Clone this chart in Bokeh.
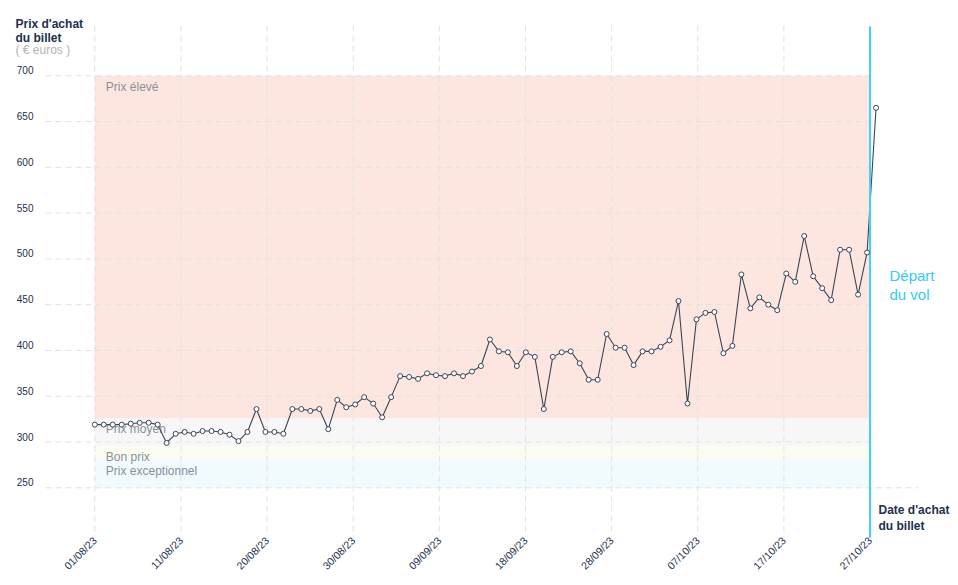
import numpy as np
from bokeh.plotting import figure
from bokeh.models import FixedTicker, Label, Range1d, LinearAxis
from bokeh.core.properties import value
from bokeh.embed import file_html
from bokeh.resources import INLINE

# ---------------- data ----------------
prices = [319, 319, 319, 319, 320, 321, 321, 319, 299, 309,
          311, 309, 312, 312, 311, 308, 301, 311, 336, 311,
          311, 309, 336, 336, 334, 336, 314, 346, 338, 341,
          349, 342, 327, 349, 372, 371, 369, 375, 373, 372,
          375, 372, 377, 383, 412, 399, 398, 383, 398, 393,
          336, 393, 398, 399, 386, 368, 368, 418, 403, 403,
          384, 399, 399, 404, 411, 454, 342, 434, 441, 442,
          397, 405, 483, 446, 458, 450, 444, 484, 475, 525,
          481, 468, 455, 510, 510, 461, 507, 665]
days = list(range(len(prices)))  # day index from 01/08/23

tick_labels = ["01/08/23", "11/08/23", "20/08/23", "30/08/23", "09/09/23",
               "18/09/23", "28/09/23", "07/10/23", "17/10/23", "27/10/23"]
departure_day = 86.33
y_ticks = [250, 300, 350, 400, 450, 500, 550, 600, 650, 700]

band_names = ["Prix exceptionnel", "Bon prix", "Prix moyen", "Prix élevé"]
band_bottoms = [250, 280, 296, 326]
band_tops = [280, 296, 326, 700]
band_colors = ["#f1fafd", "#fbfcf1", "#f7f7f7", "#fde6e0"]

FONT = "Liberation Sans"
NAVY = "#22304d"
GRID = "#e2e2e2"

tick_pos = list(np.linspace(0, departure_day, len(tick_labels)))

# pixel helpers (page pixels -> data), used for layout placement only
PX_PER_DAY = 8.98
PX_PER_EUR = 0.9156
W, H = 958, 585
def sx(px):
    return (px - 94.3) / PX_PER_DAY
def sy(py):
    return 250 + (487.3 - py) / PX_PER_EUR

p = figure(width=W, height=H,
           x_range=Range1d(sx(0), sx(W)), y_range=Range1d(sy(H), sy(0)),
           output_backend="svg", toolbar_location=None,
           x_axis_location=None, y_axis_location=None,
           min_border=0)
p.title.visible = False
p.outline_line_color = None
p.background_fill_color = "white"
p.border_fill_color = "white"
p.grid.visible = False

# label range for the y axis: tick labels sit a few px above their grid line
label_shift = 6
p.extra_y_ranges = {"ylab": Range1d(sy(H) - label_shift, sy(0) - label_shift)}

xaxis = LinearAxis(fixed_location=sy(536), ticker=FixedTicker(ticks=tick_pos),
                   major_label_overrides={t: l for t, l in zip(tick_pos, tick_labels)},
                   major_label_orientation=np.pi / 4,
                   axis_line_color=None, major_tick_line_color=None,
                   minor_tick_line_color=None, major_tick_out=0, major_tick_in=0,
                   major_label_standoff=2, major_label_text_font=FONT,
                   major_label_text_font_size="10.5px", major_label_text_color=NAVY)
p.add_layout(xaxis, "below")

yaxis = LinearAxis(y_range_name="ylab", fixed_location=sx(45),
                   ticker=FixedTicker(ticks=y_ticks),
                   axis_line_color=None, major_tick_line_color=None,
                   minor_tick_line_color=None, major_tick_out=0, major_tick_in=0,
                   major_label_standoff=12, major_label_text_font=FONT,
                   major_label_text_font_size="10px", major_label_text_color=NAVY)
p.add_layout(yaxis, "left")

# bands
p.quad(left=0, right=departure_day, bottom=band_bottoms, top=band_tops,
       fill_color=band_colors, line_color=None)

# vertical dashed grid lines
p.segment(x0=tick_pos, x1=tick_pos, y0=[sy(25)] * len(tick_pos),
          y1=[sy(536)] * len(tick_pos),
          line_color=GRID, line_dash="6 4", line_width=1)

# horizontal dashed grid lines
grid_ends = [sx(918) if t == y_ticks[0] else departure_day for t in y_ticks]
p.segment(x0=[sx(45)] * len(y_ticks), x1=grid_ends, y0=y_ticks, y1=y_ticks,
          line_color=GRID, line_dash="6 4", line_width=1)

# band labels
p.text(x=[0] * len(band_names), y=band_tops, text=band_names,
       x_offset=11, y_offset=4, text_baseline="top", text_align="left",
       text_font=value(FONT), text_font_size="12px", text_color="#8a8f99")

# price line
p.line(days, prices, line_color="#3b4558", line_width=1.1)

# departure line
p.segment(x0=[departure_day], x1=[departure_day], y0=[sy(26)], y1=[sy(537)],
          line_color="#40d0f2", line_width=2)

p.scatter(days, prices, marker="circle", size=5, fill_color="white",
          line_color="#3b4558", line_width=1)

# annotations
def lab(text, x, y, size="12px", color=NAVY, style="bold"):
    p.add_layout(Label(x=x, y=y, text=text, text_font=FONT, text_font_size=size,
                       text_color=color, text_font_style=style,
                       text_baseline="alphabetic", text_align="left"))

lab("Prix d'achat", sx(15), sy(23))
lab("du billet", sx(15), sy(37.5))
lab("( € euros )", sx(15), sy(49), color="#b3b3b3", style="normal")
lab("Date d'achat", sx(878), sy(509))
lab("du billet", sx(878), sy(525))
lab("Départ", sx(889), sy(275), size="15px", color="#38c9f2", style="normal")
lab("du vol", sx(889), sy(294), size="15px", color="#38c9f2", style="normal")

open("out.html", "w").write(file_html(p, INLINE))
